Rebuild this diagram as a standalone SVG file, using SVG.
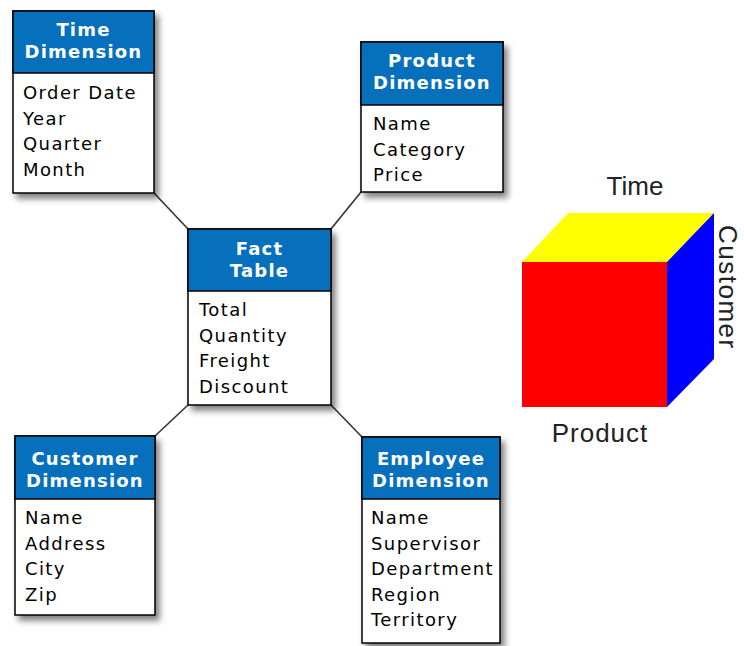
<svg xmlns="http://www.w3.org/2000/svg" width="744" height="646" viewBox="0 0 744 646">
<defs>
<filter id="sh" x="-20%" y="-20%" width="150%" height="150%">
<feDropShadow dx="4" dy="5" stdDeviation="3" flood-color="#000" flood-opacity="0.5"/>
</filter>
<style>
.box{fill:#fff;stroke:#000;stroke-width:1.5}
.hd{fill:#0670bd;stroke:#000;stroke-width:1.5}
.ht{font-family:"DejaVu Sans",Verdana,sans-serif;font-weight:bold;font-size:18px;letter-spacing:1.2px;fill:#fff;text-anchor:middle}
.bt{font-family:"DejaVu Sans",Verdana,sans-serif;font-size:18px;letter-spacing:1.4px;fill:#000}
.conn{stroke:#333;stroke-width:1.6;fill:none}
.cl{font-family:"Liberation Sans",Arial,sans-serif;font-size:26px;fill:#222}
</style>
</defs>
<rect width="744" height="646" fill="#fff"/>
<g id="connectors">
<line class="conn" x1="154" y1="193" x2="188" y2="229"/>
<line class="conn" x1="361" y1="192" x2="331" y2="229"/>
<line class="conn" x1="188" y1="405" x2="155" y2="436"/>
<line class="conn" x1="331" y1="405" x2="362" y2="437"/>
</g>
<g id="time-dimension">
<rect class="box" x="13" y="11" width="141" height="182" filter="url(#sh)"/>
<rect class="hd" x="13" y="11" width="141" height="62"/>
<text class="ht" x="83.5" y="36">Time</text>
<text class="ht" x="83.5" y="58">Dimension</text>
<text class="bt" x="23" y="99">Order Date</text>
<text class="bt" x="23" y="124.5">Year</text>
<text class="bt" x="23" y="150">Quarter</text>
<text class="bt" x="23" y="175.5">Month</text>
</g>
<g id="product-dimension">
<rect class="box" x="361" y="42" width="142" height="150" filter="url(#sh)"/>
<rect class="hd" x="361" y="42" width="142" height="63"/>
<text class="ht" x="432" y="67">Product</text>
<text class="ht" x="432" y="89">Dimension</text>
<text class="bt" x="373" y="130">Name</text>
<text class="bt" x="373" y="155.5">Category</text>
<text class="bt" x="373" y="181">Price</text>
</g>
<g id="fact-table">
<rect class="box" x="188" y="229" width="143" height="176" filter="url(#sh)"/>
<rect class="hd" x="188" y="229" width="143" height="62"/>
<text class="ht" x="259.5" y="255">Fact</text>
<text class="ht" x="259.5" y="277">Table</text>
<text class="bt" x="199" y="316">Total</text>
<text class="bt" x="199" y="341.5">Quantity</text>
<text class="bt" x="199" y="367">Freight</text>
<text class="bt" x="199" y="392.5">Discount</text>
</g>
<g id="customer-dimension">
<rect class="box" x="15" y="436" width="140" height="179" filter="url(#sh)"/>
<rect class="hd" x="15" y="436" width="140" height="63"/>
<text class="ht" x="85" y="465">Customer</text>
<text class="ht" x="85" y="487">Dimension</text>
<text class="bt" x="25" y="524">Name</text>
<text class="bt" x="25" y="549.5">Address</text>
<text class="bt" x="25" y="575">City</text>
<text class="bt" x="25" y="600.5">Zip</text>
</g>
<g id="employee-dimension">
<rect class="box" x="362" y="437" width="138" height="206" filter="url(#sh)"/>
<rect class="hd" x="362" y="437" width="138" height="62"/>
<text class="ht" x="431" y="465">Employee</text>
<text class="ht" x="431" y="487">Dimension</text>
<text class="bt" x="371" y="524">Name</text>
<text class="bt" x="371" y="549.5">Supervisor</text>
<text class="bt" x="371" y="575">Department</text>
<text class="bt" x="371" y="600.5">Region</text>
<text class="bt" x="371" y="626">Territory</text>
</g>
<g id="cube">
<polygon points="522,262 568,213 714,213 667,262" fill="#ffff00"/>
<polygon points="667,262 714,213 714,359 667,407" fill="#0000ff"/>
<rect x="522" y="262" width="145" height="145" fill="#ff0000"/>
<text class="cl" x="635" y="195" text-anchor="middle">Time</text>
<text class="cl" x="600" y="442" text-anchor="middle" letter-spacing="1">Product</text>
<text class="cl" transform="translate(719,225) rotate(90)" letter-spacing="1.5">Customer</text>
</g>
</svg>
